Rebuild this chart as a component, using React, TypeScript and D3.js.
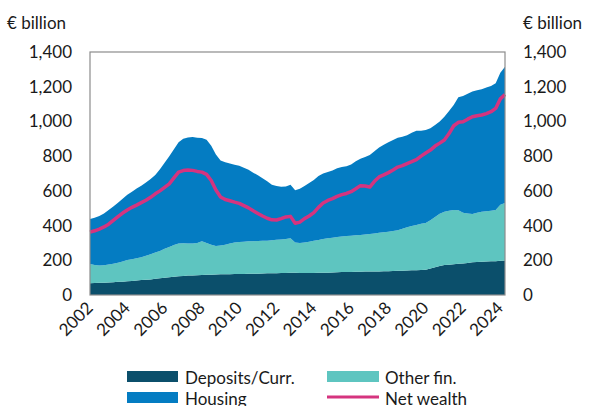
import React from "react";
import * as d3 from "d3";

// Quarterly periods 2002Q1 .. 2024Q2
const startYear = 2002;
const quarters: string[] = [];
for (let y = 2002; y <= 2024; y++) for (let q = 1; q <= 4; q++) if (!(y === 2024 && q > 2)) quarters.push(`${y}Q${q}`);

const deposits = [
  67, 69, 70, 71, 72, 74, 76, 77, 79, 81, 84, 86, 88, 90, 93, 96, 99, 102, 105, 108,
  110, 112, 113, 114, 115, 116, 117, 118, 119, 120, 120, 121, 121, 121, 122, 123, 123, 124, 125, 126,
  126, 127, 127, 128, 128, 127, 127, 127, 127, 128, 128, 128, 129, 131, 132, 133, 133, 134, 134, 135,
  135, 136, 136, 137, 137, 138, 140, 140, 141, 142, 143, 144, 146, 152, 160, 167, 173, 175, 177, 180,
  182, 185, 188, 190, 192, 193, 194, 195, 197, 199,
];
const otherFin = [
  111, 104, 100, 101, 104, 106, 110, 116, 122, 125, 128, 132, 138, 145, 152, 158, 167, 174, 183, 189,
  188, 184, 183, 186, 195, 184, 173, 165, 166, 170, 176, 181, 184, 186, 187, 187, 188, 188, 188, 190,
  192, 193, 196, 199, 174, 173, 176, 180, 185, 189, 194, 199, 201, 203, 205, 207, 208, 210, 212, 214,
  216, 219, 223, 225, 228, 231, 233, 242, 249, 255, 261, 266, 269, 278, 290, 301, 307, 311, 313, 308,
  292, 285, 279, 284, 288, 290, 292, 295, 323, 331,
];
const housing = [
  260, 272, 285, 298, 314, 330, 346, 362, 377, 389, 401, 412, 422, 433, 447, 471, 496, 524, 552, 583,
  602, 612, 614, 606, 595, 595, 570, 527, 490, 475, 462, 448, 440, 426, 413, 395, 379, 360, 342, 319,
  310, 304, 302, 308, 301, 312, 325, 338, 350, 368, 378, 381, 388, 396, 401, 402, 411, 426, 439, 446,
  455, 473, 491, 503, 515, 524, 533, 530, 530, 538, 543, 537, 535, 530, 530, 532, 547, 574, 605, 652,
  672, 690, 705, 706, 705, 712, 718, 730, 760, 785,
];
const netWealth = [
  362, 370, 380, 392, 408, 430, 452, 472, 490, 505, 518, 532, 546, 563, 583, 600, 620, 640, 675, 708,
  717, 720, 718, 712, 708, 695, 660, 605, 565, 550, 543, 535, 528, 515, 502, 485, 470, 455, 442, 433,
  432, 440, 450, 453, 413, 420, 440, 455, 475, 505, 530, 545, 555, 568, 578, 585, 595, 612, 630, 628,
  622, 655, 680, 692, 705, 720, 737, 745, 757, 768, 780, 800, 818, 835, 858, 875, 893, 930, 975, 995,
  998, 1013, 1027, 1033, 1037, 1045, 1056, 1075, 1130, 1155,
];

const yTicks = [0, 200, 400, 600, 800, 1000, 1200, 1400];
const xTickYears = [2002, 2004, 2006, 2008, 2010, 2012, 2014, 2016, 2018, 2020, 2022, 2024];
const seriesNames = ["Deposits/Curr.", "Other fin.", "Housing", "Net wealth"];
const colors = ["#0b4f6b", "#5ec5c0", "#047cc2", "#d5347f"];

const W = 591, H = 406;
const M = { left: 90, right: 505, top: 52, bottom: 295 };
const FONT = "Lato, 'Open Sans', sans-serif";

export default function App() {
  const t = quarters.map((q) => {
    const [y, qq] = q.split("Q");
    return +y + (+qq - 1) / 4;
  });
  const rows = quarters.map((q, i) => ({ t: t[i], d: deposits[i], o: otherFin[i], h: housing[i] }));
  const x = d3.scaleLinear().domain([startYear, t[t.length - 1]]).range([M.left, M.right]);
  const y = d3.scaleLinear().domain([0, 1400]).range([M.bottom, M.top]);
  const stack = d3.stack<any>().keys(["d", "o", "h"]);
  const layers = stack(rows);
  const area = d3
    .area<any>()
    .x((p) => x(p.data.t))
    .y0((p) => y(p[0]))
    .y1((p) => y(p[1]));
  const line = d3
    .line<number>()
    .x((_, i) => x(t[i]))
    .y((v) => y(v));

  return (
    <svg width={W} height={H} style={{ position: "absolute", left: 0, top: 0, fontFamily: FONT }}>
      {layers.map((l, i) => (
        <path key={i} d={area(l) || ""} fill={colors[i]} />
      ))}
      <path d={line(netWealth) || ""} fill="none" stroke={colors[3]} strokeWidth={3.5} strokeLinejoin="round" />
      <rect x={M.left} y={M.top} width={M.right - M.left} height={M.bottom - M.top} fill="none" stroke="#8c8c8c" strokeWidth={1.2} />
      {yTicks.map((v) => (
        <g key={v}>
          <text x={72} y={y(v) + 6} textAnchor="end" fontSize={17} fill="#1a1a1a">
            {d3.format(",")(v)}
          </text>
          <text x={523} y={y(v) + 6} textAnchor="start" fontSize={17} fill="#1a1a1a">
            {d3.format(",")(v)}
          </text>
        </g>
      ))}
      <text x={7} y={29} fontSize={17} fill="#1a1a1a">€ billion</text>
      <text x={523} y={29} fontSize={17} fill="#1a1a1a">€ billion</text>
      {xTickYears.map((yr) => (
        <text
          key={yr}
          transform={`translate(${x(yr) + 4},${M.bottom + 14}) rotate(-45)`}
          textAnchor="end"
          fontSize={17}
          fill="#1a1a1a"
        >
          {yr}
        </text>
      ))}
      {/* legend */}
      <rect x={127} y={371} width={51} height={11} fill={colors[0]} />
      <text x={185} y={384} fontSize={17} fill="#1a1a1a">{seriesNames[0]}</text>
      <rect x={327} y={371} width={52} height={11} fill={colors[1]} />
      <text x={385} y={384} fontSize={17} fill="#1a1a1a">{seriesNames[1]}</text>
      <rect x={127} y={392} width={51} height={11} fill={colors[2]} />
      <text x={185} y={405} fontSize={17} fill="#1a1a1a">{seriesNames[2]}</text>
      <line x1={327} x2={379} y1={397} y2={397} stroke={colors[3]} strokeWidth={3} />
      <text x={385} y={405} fontSize={17} fill="#1a1a1a">{seriesNames[3]}</text>
    </svg>
  );
}
